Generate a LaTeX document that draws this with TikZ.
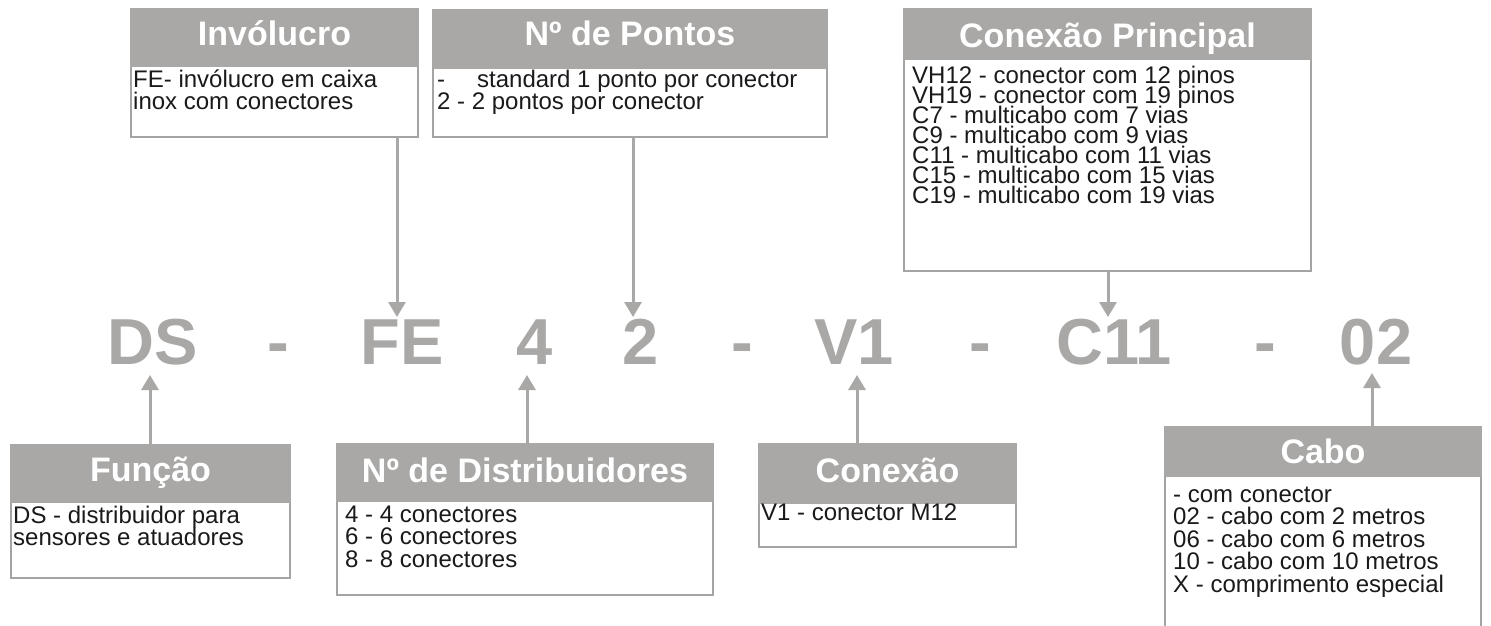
\documentclass[tikz,border=0pt]{standalone}
\usepackage{fontspec}
\setmainfont{Liberation Sans}
\usetikzlibrary{arrows.meta}
\definecolor{hdr}{HTML}{A9A8A6}
\definecolor{bord}{HTML}{A5A4A2}
\definecolor{txt}{HTML}{1A1A1A}
\newcommand{\firstline}{\rule{0pt}{18pt}}
\newcommand{\tightlines}{\lineskiplimit=-50pt\relax\lineskip=0pt\relax}
\begin{document}
\begin{tikzpicture}[x=1pt,y=-1pt,
  bodybox/.style={draw=bord,line width=2pt,fill=white,anchor=north west,inner sep=0,outer sep=0},
  hdrbox/.style={draw=hdr,fill=hdr,line width=2pt,anchor=north west,inner sep=0,outer sep=0},
  hdrtext/.style={text=white,font=\fontsize{34}{34}\selectfont\bfseries,anchor=base,inner sep=0},
  bodytext/.style={text=txt,anchor=north west,inner sep=0,align=left,font=\fontsize{24}{22}\selectfont\tightlines},
  codetext/.style={text=hdr,font=\fontsize{65}{65}\selectfont\bfseries,anchor=base,inner sep=0},
  conn/.style={draw=hdr,line width=3pt,-{Triangle[length=15pt,width=17pt]}},
]
\useasboundingbox[fill=white] (0,0) rectangle (1491,625);

% ---- code line ----
\node[codetext] (cDS) at (153,364) {DS};
\node[codetext] (d1) at (278,364) {-};
\node[codetext] (cFE) at (402,364) {FE};
\node[codetext] (c4) at (535,364) {4};
\node[codetext] (c2) at (641,364) {2};
\node[codetext] (d2) at (742,364) {-};
\node[codetext] (cV1) at (854,364) {V1};
\node[codetext] (d3) at (980,364) {-};
\node[codetext] (cC11) at (1114,364) {C11};
\node[codetext] (d4) at (1265,364) {-};
\node[codetext] (c02) at (1376,364) {02};

% ---- arrow tips ----
\coordinate (tFE) at (397,317);
\coordinate (t2) at (633,317);
\coordinate (tC11) at (1108,317);
\coordinate (tDS) at (150,375);
\coordinate (t4) at (527,375);
\coordinate (tV1) at (857,375);
\coordinate (t02) at (1372,373);

% ---- Invólucro ----
\node[bodybox,minimum width=287pt,minimum height=128pt] (invb) at (131,9) {};
\node[hdrbox,minimum width=287pt,minimum height=57pt] (invh) at (131,9) {};
\node[hdrtext] at (274.5,45) {Invólucro};
\node[bodytext] at (133,69) {\firstline FE- invólucro em caixa\\inox com conectores};

% ---- Nº de Pontos ----
\node[bodybox,minimum width=394pt,minimum height=127pt] (ponb) at (433,10) {};
\node[hdrbox,minimum width=394pt,minimum height=58pt] (ponh) at (433,10) {};
\node[hdrtext] at (630,45) {Nº de Pontos};
\node[bodytext] at (437,69) {\firstline\makebox[40pt][l]{-}standard 1 ponto por conector\\2 - 2 pontos por conector};

% ---- Conexão Principal ----
\node[bodybox,minimum width=407pt,minimum height=262pt] (prib) at (904,9) {};
\node[hdrbox,minimum width=407pt,minimum height=50pt] (prih) at (904,9) {};
\node[hdrtext] at (1107.5,47) {Conexão Principal};
\node[bodytext,font=\fontsize{24}{20}\selectfont\tightlines] at (912,65) {\firstline VH12 - conector com 12 pinos\\VH19 - conector com 19 pinos\\C7 - multicabo com 7 vias\\C9 - multicabo com 9 vias\\C11 - multicabo com 11 vias\\C15 - multicabo com 15 vias\\C19 - multicabo com 19 vias};

% ---- Função ----
\node[bodybox,minimum width=279pt,minimum height=133pt] (funb) at (11,445) {};
\node[hdrbox,minimum width=279pt,minimum height=57pt] (funh) at (11,445) {};
\node[hdrtext] at (150.5,481) {Função};
\node[bodytext] at (13,505) {\firstline DS - distribuidor para\\sensores e atuadores};

% ---- Nº de Distribuidores ----
\node[bodybox,minimum width=376pt,minimum height=151pt] (disb) at (337,444) {};
\node[hdrbox,minimum width=376pt,minimum height=57pt] (dish) at (337,444) {};
\node[hdrtext] at (525,482) {Nº de Distribuidores};
\node[bodytext,font=\fontsize{24}{22.5}\selectfont\tightlines] at (345,504) {\firstline 4 - 4 conectores\\6 - 6 conectores\\8 - 8 conectores};

% ---- Conexão ----
\node[bodybox,minimum width=257pt,minimum height=103pt] (conb) at (759,444) {};
\node[hdrbox,minimum width=257pt,minimum height=59pt] (conh) at (759,444) {};
\node[hdrtext] at (887.5,482) {Conexão};
\node[bodytext] at (761,502) {\firstline V1 - conector M12};

% ---- Cabo ----
\node[bodybox,minimum width=316pt,minimum height=220pt] (cabb) at (1165,427) {};
\node[hdrbox,minimum width=316pt,minimum height=49pt] (cabh) at (1165,427) {};
\node[hdrtext] at (1323,463) {Cabo};
\node[bodytext,font=\fontsize{24}{22.5}\selectfont\tightlines] at (1173,484) {\firstline - com conector\\02 - cabo com 2 metros\\06 - cabo com 6 metros\\10 - cabo com 10 metros\\X - comprimento especial};

% ---- connectors ----
\draw[conn] (invb.south -| tFE) -- (tFE);
\draw[conn] (ponb.south -| t2) -- (t2);
\draw[conn] (prib.south -| tC11) -- (tC11);
\draw[conn] (funh.north -| tDS) -- (tDS);
\draw[conn] (dish.north -| t4) -- (t4);
\draw[conn] (conh.north -| tV1) -- (tV1);
\draw[conn] (cabh.north -| t02) -- (t02);
\end{tikzpicture}
\end{document}
